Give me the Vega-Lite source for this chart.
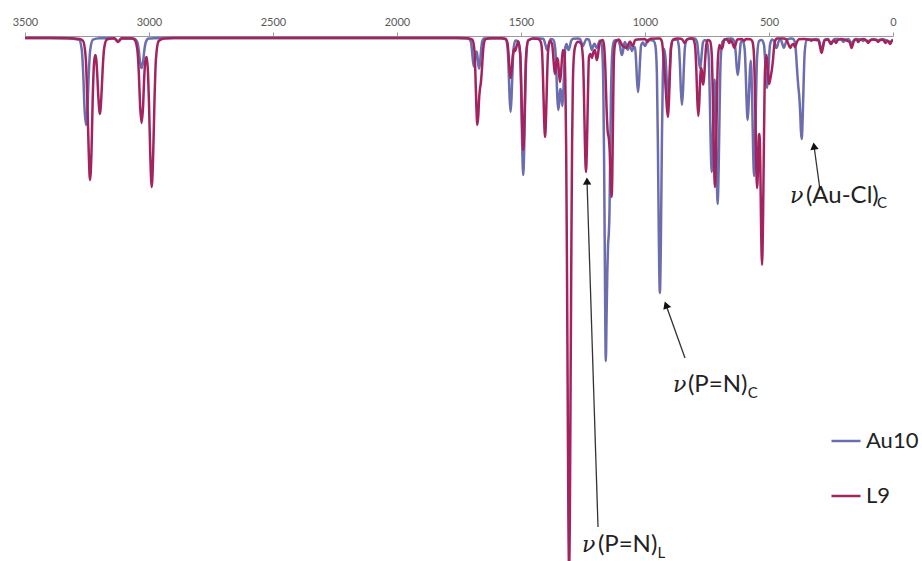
{
  "$schema": "https://vega.github.io/schema/vega-lite/v6.json",
  "autosize": {"type": "none"},
  "width": 868,
  "height": 525,
  "padding": {"left": 25, "top": 36, "right": 29, "bottom": 0},
  "background": "white",
  "config": {"view": {"stroke": null}},
  "datasets": {
    "au10": [
      {"w":3500,"a":0},{"w":3400,"a":0},{"w":3330,"a":0.2},{"w":3282,"a":1.7},{"w":3271,"a":12},{"w":3265,"a":37},{"w":3260,"a":70},{"w":3254,"a":87},{"w":3248,"a":70},{"w":3243,"a":37},{"w":3237,"a":12},{"w":3226,"a":1.7},{"w":3200,"a":0.3},
      {"w":3140,"a":0.3},{"w":3131,"a":2.4},{"w":3125,"a":4},{"w":3119,"a":2.4},{"w":3110,"a":0.3},{"w":3070,"a":0.2},{"w":3058,"a":0.6},{"w":3047,"a":4.2},{"w":3041,"a":12.6},{"w":3036,"a":24},{"w":3030,"a":30},{"w":3024,"a":24},{"w":3019,"a":12.6},{"w":3013,"a":4.2},{"w":3002,"a":0.6},{"w":2980,"a":0.2},{"w":2900,"a":0},
      {"w":1760,"a":0},{"w":1725,"a":0.2},{"w":1712,"a":0.5},{"w":1702,"a":3.9},{"w":1698,"a":11.8},{"w":1694,"a":22.4},{"w":1690,"a":28.6},{"w":1686,"a":23.6},{"w":1682,"a":15},{"w":1679,"a":13.4},{"w":1676,"a":17},{"w":1673,"a":25},{"w":1669,"a":30.6},{"w":1665,"a":24},{"w":1661,"a":12.6},{"w":1657,"a":4.2},{"w":1649,"a":0.6},{"w":1620,"a":0.2},
      {"w":1580,"a":0.3},{"w":1562,"a":1.5},{"w":1554,"a":10.4},{"w":1550,"a":31},{"w":1546,"a":59},{"w":1542,"a":74},{"w":1538,"a":59},{"w":1534,"a":31},{"w":1530,"a":10.4},{"w":1522,"a":2.5},{"w":1511,"a":3.3},{"w":1503,"a":19},{"w":1499,"a":58},{"w":1495,"a":110},{"w":1491,"a":137},{"w":1487,"a":110},{"w":1483,"a":58},{"w":1479,"a":19},{"w":1471,"a":2.7},{"w":1450,"a":0.5},
      {"w":1425,"a":0.4},{"w":1410,"a":0.7},{"w":1401,"a":7.2},{"w":1395,"a":12},{"w":1389,"a":7.2},{"w":1380,"a":1},{"w":1370,"a":1.6},{"w":1362,"a":10.3},{"w":1358,"a":30},{"w":1354,"a":57},{"w":1350,"a":72},{"w":1347,"a":67},{"w":1344,"a":55},{"w":1341,"a":51},{"w":1339,"a":53},{"w":1336,"a":63},{"w":1333,"a":68},{"w":1329,"a":52},{"w":1325,"a":27},{"w":1321,"a":9},
      {"w":1316,"a":6},{"w":1312,"a":9.6},{"w":1308,"a":12},{"w":1304,"a":9.6},{"w":1298,"a":3},{"w":1290,"a":0.8},{"w":1270,"a":0.6},{"w":1262,"a":1},{"w":1256,"a":4.8},{"w":1250,"a":8},{"w":1244,"a":4.8},{"w":1236,"a":1},{"w":1226,"a":1.7},{"w":1220,"a":7.2},{"w":1214,"a":12},{"w":1208,"a":7.2},{"w":1203,"a":5.8},{"w":1200,"a":7.7},{"w":1194,"a":10},{"w":1188,"a":6},{"w":1182,"a":2.4},
      {"w":1176,"a":5},{"w":1172,"a":14},{"w":1168,"a":50},{"w":1165,"a":120},{"w":1162,"a":220},{"w":1158,"a":323},{"w":1155,"a":280},{"w":1152,"a":235},{"w":1149,"a":207},{"w":1146,"a":196},{"w":1143,"a":172},{"w":1140,"a":110},{"w":1137,"a":55},{"w":1134,"a":25},{"w":1130,"a":9},{"w":1124,"a":3},{"w":1116,"a":2},
      {"w":1110,"a":2.5},{"w":1101,"a":7.5},{"w":1097,"a":13.6},{"w":1093,"a":17},{"w":1089,"a":13.6},{"w":1085,"a":7},{"w":1081,"a":4},{"w":1075,"a":8},{"w":1069,"a":12},{"w":1063,"a":7.2},{"w":1058,"a":9.6},{"w":1052,"a":13},{"w":1046,"a":9},{"w":1040,"a":9.3},{"w":1036,"a":22.7},{"w":1032,"a":43},{"w":1028,"a":54},{"w":1024,"a":43},{"w":1020,"a":22.7},{"w":1016,"a":7.6},
      {"w":1008,"a":4.5},{"w":1004,"a":6.4},{"w":1000,"a":8},{"w":996,"a":6.4},{"w":990,"a":2.3},{"w":980,"a":2},{"w":965,"a":3},{"w":958,"a":8},{"w":952,"a":36},{"w":948,"a":107},{"w":944,"a":204},{"w":940,"a":255},{"w":936,"a":204},{"w":932,"a":107},{"w":928,"a":36},{"w":922,"a":11},{"w":915,"a":28},{"w":911,"a":50},{"w":907,"a":62},{"w":903,"a":48},{"w":899,"a":25},{"w":895,"a":8.4},{"w":887,"a":2},
      {"w":870,"a":1.5},{"w":863,"a":9.4},{"w":859,"a":28},{"w":855,"a":54},{"w":851,"a":67},{"w":847,"a":54},{"w":843,"a":28},{"w":839,"a":9.4},{"w":831,"a":1.4},{"w":810,"a":0.6},{"w":800,"a":0.6},{"w":790,"a":4.2},{"w":786,"a":12.6},{"w":782,"a":24},{"w":778,"a":30},{"w":774,"a":24},{"w":770,"a":12.6},{"w":766,"a":4.2},{"w":758,"a":2},{"w":751,"a":3.3},
      {"w":743,"a":19.5},{"w":739,"a":57},{"w":735,"a":108},{"w":731,"a":134},{"w":727,"a":109},{"w":723,"a":64},{"w":719,"a":41.5},{"w":715,"a":76},{"w":711,"a":134},{"w":707,"a":166},{"w":703,"a":131},{"w":699,"a":69},{"w":695,"a":23},{"w":687,"a":3.3},{"w":670,"a":0.8},{"w":650,"a":0.4},
      {"w":640,"a":3},{"w":634,"a":15.5},{"w":630,"a":29.6},{"w":626,"a":37},{"w":622,"a":29.6},{"w":618,"a":15.5},{"w":614,"a":5.2},{"w":606,"a":2.3},{"w":598,"a":11.5},{"w":594,"a":34},{"w":590,"a":66},{"w":586,"a":82},{"w":582,"a":66},{"w":578,"a":38},{"w":574,"a":22.5},{"w":571,"a":32},{"w":568,"a":60},{"w":564,"a":112},{"w":560,"a":138},{"w":556,"a":110},{"w":552,"a":57.5},{"w":548,"a":19},{"w":540,"a":3},
      {"w":530,"a":2},{"w":520,"a":7},{"w":516,"a":21},{"w":512,"a":40},{"w":508,"a":50},{"w":504,"a":40},{"w":500,"a":21},{"w":496,"a":7},{"w":488,"a":1.5},{"w":480,"a":2.6},{"w":474,"a":8},{"w":470,"a":10},{"w":466,"a":8},{"w":460,"a":2.6},{"w":452,"a":2},{"w":446,"a":6},{"w":440,"a":10},{"w":434,"a":6},{"w":426,"a":1.4},{"w":410,"a":0.5},
      {"w":400,"a":1.5},{"w":394,"a":7},{"w":390,"a":19},{"w":386,"a":35},{"w":382,"a":48},{"w":378,"a":58},{"w":374,"a":76},{"w":371,"a":94},{"w":368,"a":101},{"w":364,"a":78},{"w":360,"a":41},{"w":356,"a":14},{"w":348,"a":2},{"w":336,"a":1.5},{"w":330,"a":3},{"w":324,"a":1.5},{"w":310,"a":1},
      {"w":300,"a":1.7},{"w":294,"a":7},{"w":288,"a":12},{"w":282,"a":7},{"w":276,"a":1.7},{"w":262,"a":1},{"w":256,"a":3.6},{"w":250,"a":6},{"w":244,"a":3.6},{"w":236,"a":1},{"w":220,"a":1},{"w":206,"a":2.4},{"w":200,"a":4},{"w":194,"a":2.4},{"w":180,"a":1},{"w":175,"a":2.5},{"w":167,"a":6},{"w":159,"a":2.5},{"w":150,"a":1},
      {"w":126,"a":1.8},{"w":120,"a":3},{"w":114,"a":1.8},{"w":106,"a":2.4},{"w":100,"a":4},{"w":94,"a":2.4},{"w":80,"a":1.2},{"w":66,"a":1.8},{"w":60,"a":3},{"w":54,"a":1.8},{"w":40,"a":1.5},{"w":18,"a":3},{"w":12,"a":5},{"w":6,"a":3},{"w":0,"a":1.5}
    ],
    "l9": [
      {"w":3500,"a":0},{"w":3400,"a":0},{"w":3320,"a":0.2},{"w":3280,"a":1.1},{"w":3266,"a":2.8},{"w":3255,"a":20},{"w":3249,"a":60},{"w":3243,"a":114},{"w":3238,"a":142},{"w":3232,"a":115},{"w":3227,"a":61},{"w":3221,"a":23},{"w":3216,"a":17},{"w":3212,"a":23},{"w":3209,"a":35},{"w":3204,"a":60},{"w":3198,"a":76},{"w":3192,"a":58},{"w":3187,"a":32},{"w":3181,"a":10.5},{"w":3170,"a":1.5},{"w":3150,"a":0.4},
      {"w":3140,"a":0.3},{"w":3131,"a":2.4},{"w":3125,"a":4},{"w":3119,"a":2.4},{"w":3110,"a":0.3},{"w":3070,"a":0.5},{"w":3058,"a":1.7},{"w":3047,"a":11.8},{"w":3041,"a":35},{"w":3036,"a":67},{"w":3030,"a":85},{"w":3024,"a":69},{"w":3019,"a":38},{"w":3013,"a":20},{"w":3009,"a":19},{"w":3004,"a":35},{"w":3000,"a":65},{"w":2995,"a":116},{"w":2989,"a":149},{"w":2983,"a":115},{"w":2978,"a":64},{"w":2972,"a":21},{"w":2961,"a":3},{"w":2940,"a":0.5},{"w":2900,"a":0},
      {"w":1760,"a":0},{"w":1720,"a":0.3},{"w":1705,"a":0.7},{"w":1696,"a":1.7},{"w":1688,"a":11.8},{"w":1684,"a":35},{"w":1680,"a":68},{"w":1676,"a":87},{"w":1672,"a":77},{"w":1669,"a":61},{"w":1666,"a":52},{"w":1662,"a":45},{"w":1658,"a":33},{"w":1654,"a":17},{"w":1650,"a":6},{"w":1642,"a":1.2},{"w":1620,"a":0.2},
      {"w":1580,"a":0.3},{"w":1562,"a":0.8},{"w":1554,"a":5.6},{"w":1550,"a":17},{"w":1546,"a":32},{"w":1542,"a":40},{"w":1538,"a":33},{"w":1534,"a":20},{"w":1530,"a":13},{"w":1527,"a":11},{"w":1524,"a":13},{"w":1518,"a":8.5},{"w":1511,"a":3.5},{"w":1503,"a":15.7},{"w":1499,"a":47},{"w":1495,"a":90},{"w":1491,"a":112},{"w":1487,"a":90},{"w":1483,"a":47},{"w":1479,"a":15.7},{"w":1471,"a":2.2},{"w":1450,"a":0.5},
      {"w":1430,"a":1},{"w":1420,"a":4},{"w":1415,"a":13.9},{"w":1411,"a":41.6},{"w":1407,"a":79},{"w":1403,"a":99},{"w":1399,"a":79},{"w":1395,"a":41.6},{"w":1391,"a":13.9},{"w":1383,"a":2.7},{"w":1375,"a":5.7},{"w":1371,"a":14.7},{"w":1367,"a":28},{"w":1363,"a":36},{"w":1359,"a":30},{"w":1355,"a":20},{"w":1351,"a":22},{"w":1347,"a":34},{"w":1343,"a":44},{"w":1339,"a":36},{"w":1335,"a":21.5},{"w":1331,"a":12},{"w":1325,"a":14},
      {"w":1321,"a":48},{"w":1318,"a":106},{"w":1315,"a":212},{"w":1312,"a":345},{"w":1309,"a":477},{"w":1306,"a":530},{"w":1303,"a":477},{"w":1300,"a":345},{"w":1297,"a":212},{"w":1294,"a":106},{"w":1291,"a":48},{"w":1287,"a":19},{"w":1281,"a":8},{"w":1270,"a":3.7},
      {"w":1258,"a":5.3},{"w":1250,"a":21},{"w":1246,"a":58},{"w":1242,"a":108},{"w":1238,"a":134},{"w":1234,"a":107},{"w":1230,"a":56},{"w":1226,"a":19},{"w":1220,"a":16},{"w":1214,"a":20},{"w":1208,"a":14},{"w":1202,"a":12},{"w":1198,"a":17.6},{"w":1194,"a":22},{"w":1190,"a":17.6},{"w":1186,"a":9.2},{"w":1180,"a":3.5},
      {"w":1170,"a":2},{"w":1165,"a":8},{"w":1160,"a":30},{"w":1155,"a":70},{"w":1150,"a":95},{"w":1146,"a":100},{"w":1142,"a":115},{"w":1138,"a":145},{"w":1135,"a":159},{"w":1132,"a":140},{"w":1129,"a":80},{"w":1126,"a":25},{"w":1122,"a":8},{"w":1116,"a":3},
      {"w":1105,"a":1.5},{"w":1097,"a":4.8},{"w":1090,"a":8},{"w":1083,"a":9},{"w":1075,"a":10},{"w":1068,"a":6.6},{"w":1060,"a":3.4},{"w":1054,"a":6.4},{"w":1050,"a":8},{"w":1046,"a":6.4},{"w":1040,"a":2.1},{"w":1030,"a":1.5},{"w":1000,"a":1},{"w":994,"a":2.5},{"w":990,"a":4},{"w":986,"a":2.5},{"w":978,"a":0.8},{"w":950,"a":0.5},
      {"w":940,"a":0.5},{"w":932,"a":3.3},{"w":927,"a":14},{"w":923,"a":28},{"w":919,"a":41},{"w":915,"a":57},{"w":911,"a":72},{"w":907,"a":79},{"w":903,"a":60},{"w":899,"a":31.5},{"w":895,"a":10.5},{"w":887,"a":1.6},{"w":870,"a":0.5},{"w":855,"a":0.8},{"w":848,"a":2},{"w":840,"a":5},{"w":832,"a":2},{"w":820,"a":0.5},
      {"w":810,"a":0.5},{"w":801,"a":3.8},{"w":797,"a":10.8},{"w":793,"a":32},{"w":789,"a":62},{"w":785,"a":78},{"w":781,"a":64},{"w":777,"a":38},{"w":774,"a":30},{"w":771,"a":33},{"w":768,"a":43},{"w":765,"a":46.5},{"w":761,"a":37},{"w":757,"a":20},{"w":753,"a":7},{"w":747,"a":2},
      {"w":738,"a":3},{"w":732,"a":12},{"w":730,"a":21},{"w":726,"a":62.6},{"w":722,"a":119},{"w":718,"a":149},{"w":714,"a":119},{"w":710,"a":62.6},{"w":706,"a":21},{"w":700,"a":7},{"w":694,"a":10},{"w":690,"a":11},{"w":686,"a":8},{"w":680,"a":1.4},
      {"w":668,"a":1.4},{"w":660,"a":5},{"w":654,"a":2},{"w":646,"a":6},{"w":640,"a":10},{"w":634,"a":6},{"w":628,"a":1.4},{"w":610,"a":1},{"w":600,"a":3},{"w":594,"a":1},
      {"w":575,"a":1.2},{"w":568,"a":2.9},{"w":562,"a":11.6},{"w":558,"a":37.7},{"w":555,"a":74},{"w":552,"a":119},{"w":548,"a":150},{"w":544,"a":127},{"w":541,"a":97},{"w":538,"a":96},{"w":535,"a":128},{"w":532,"a":186},{"w":528,"a":227},{"w":524,"a":180},{"w":520,"a":94},{"w":516,"a":31},
      {"w":510,"a":17},{"w":506,"a":28},{"w":503,"a":38},{"w":500,"a":46},{"w":496,"a":42.5},{"w":492,"a":37},{"w":488,"a":31},{"w":484,"a":22},{"w":480,"a":10.5},{"w":476,"a":3.5},{"w":468,"a":0.5},{"w":440,"a":0.5},
      {"w":430,"a":1.4},{"w":422,"a":6},{"w":414,"a":10},{"w":408,"a":7},{"w":402,"a":6},{"w":395,"a":9},{"w":388,"a":4.5},{"w":380,"a":1.3},{"w":360,"a":1},{"w":340,"a":1.5},
      {"w":300,"a":2.5},{"w":294,"a":9},{"w":288,"a":15},{"w":282,"a":9},{"w":276,"a":2.5},{"w":262,"a":1.5},{"w":256,"a":3.6},{"w":250,"a":6},{"w":244,"a":3.6},{"w":236,"a":2.5},{"w":230,"a":5},{"w":224,"a":2.5},{"w":210,"a":1},
      {"w":175,"a":4},{"w":167,"a":10},{"w":159,"a":4},{"w":150,"a":1.5},{"w":144,"a":2.4},{"w":140,"a":4},{"w":136,"a":2.4},{"w":120,"a":1},{"w":106,"a":3},{"w":100,"a":5},{"w":94,"a":3},{"w":80,"a":1.5},{"w":66,"a":2.4},{"w":60,"a":4},{"w":54,"a":2.4},{"w":40,"a":1.5},{"w":36,"a":3},{"w":30,"a":5},{"w":24,"a":3},{"w":18,"a":3.6},{"w":12,"a":6},{"w":6,"a":3.6},{"w":0,"a":2}
    ]
  },
  "encoding": {
    "x": {
      "field": "w", "type": "quantitative",
      "scale": {"domain": [0, 3500], "reverse": true, "nice": false, "zero": false},
      "axis": {
        "orient": "top", "title": null, "grid": false,
        "values": [3500, 3000, 2500, 2000, 1500, 1000, 500, 0],
        "format": "d", "labelFlush": false,
        "domainColor": "#9a9a9a", "domainWidth": 1,
        "tickColor": "#9a9a9a", "tickSize": 4, "tickWidth": 1,
        "labelColor": "#595959", "labelFont": "Lato", "labelFontSize": 11, "labelPadding": 5
      }
    },
    "y": {
      "field": "a", "type": "quantitative",
      "scale": {"domain": [-2, 523], "reverse": true, "nice": false, "zero": false},
      "axis": null
    }
  },
  "layer": [
    {
      "data": {"name": "au10"},
      "mark": {"type": "line", "strokeWidth": 2.5, "interpolate": "monotone", "clip": true},
      "encoding": {
        "color": {
          "datum": "Au10", "type": "nominal",
          "scale": {"domain": ["Au10", "L9"], "range": ["#6B6DAE", "#A3235F"]},
          "legend": {
            "orient": "none", "legendX": 805, "legendY": 389, "title": null,
            "symbolType": "stroke", "symbolSize": 841, "symbolStrokeWidth": 2.5,
            "labelFont": "Lato", "labelFontSize": 22, "labelColor": "#222222",
            "labelOffset": 4, "rowPadding": 28
          }
        }
      }
    },
    {
      "data": {"name": "l9"},
      "mark": {"type": "line", "strokeWidth": 2.5, "interpolate": "monotone", "clip": true},
      "encoding": {
        "color": {"datum": "L9", "type": "nominal", "scale": {"domain": ["Au10", "L9"], "range": ["#6B6DAE", "#A3235F"]}}
      }
    },
    {
      "data": {"values": [
        {"w": 1189.5, "a": 489, "w2": 1233.8, "a2": 143},
        {"w": 838.7, "a": 320, "w2": 915.3, "a2": 267},
        {"w": 294.3, "a": 152, "w2": 318.5, "a2": 108}
      ]},
      "mark": {"type": "rule", "color": "#333333", "strokeWidth": 1.3},
      "encoding": {
        "x2": {"field": "w2"},
        "y2": {"field": "a2"}
      }
    },
    {
      "data": {"values": [{"w": 1233.8, "a": 143}]},
      "mark": {"type": "point", "shape": "triangle-up", "filled": true, "color": "#111111", "size": 70, "opacity": 1, "angle": -1.8}
    },
    {
      "data": {"values": [{"w": 915.3, "a": 267}]},
      "mark": {"type": "point", "shape": "triangle-up", "filled": true, "color": "#111111", "size": 70, "opacity": 1, "angle": -19.7}
    },
    {
      "data": {"values": [{"w": 318.5, "a": 108}]},
      "mark": {"type": "point", "shape": "triangle-up", "filled": true, "color": "#111111", "size": 70, "opacity": 1, "angle": -7.8}
    },
    {
      "data": {"values": [
        {"t": "ν", "w": 1254, "a": 514},
        {"t": "ν", "w": 887, "a": 354},
        {"t": "ν", "w": 415, "a": 165}
      ]},
      "mark": {"type": "text", "align": "left", "baseline": "alphabetic", "font": "DejaVu Serif", "fontStyle": "italic", "fontSize": 22, "color": "#222222"},
      "encoding": {"text": {"field": "t"}}
    },
    {
      "data": {"values": [
        {"t": "(P=N)", "w": 1190, "a": 514},
        {"t": "(P=N)", "w": 827, "a": 354},
        {"t": "(Au-Cl)", "w": 351, "a": 165}
      ]},
      "mark": {"type": "text", "align": "left", "baseline": "alphabetic", "font": "Lato", "fontSize": 24, "color": "#222222"},
      "encoding": {"text": {"field": "t"}}
    },
    {
      "data": {"values": [
        {"t": "L", "w": 950, "a": 520},
        {"t": "C", "w": 586, "a": 360},
        {"t": "C", "w": 64.5, "a": 170}
      ]},
      "mark": {"type": "text", "align": "left", "baseline": "alphabetic", "font": "Lato", "fontSize": 15, "color": "#222222"},
      "encoding": {"text": {"field": "t"}}
    }
  ]
}
